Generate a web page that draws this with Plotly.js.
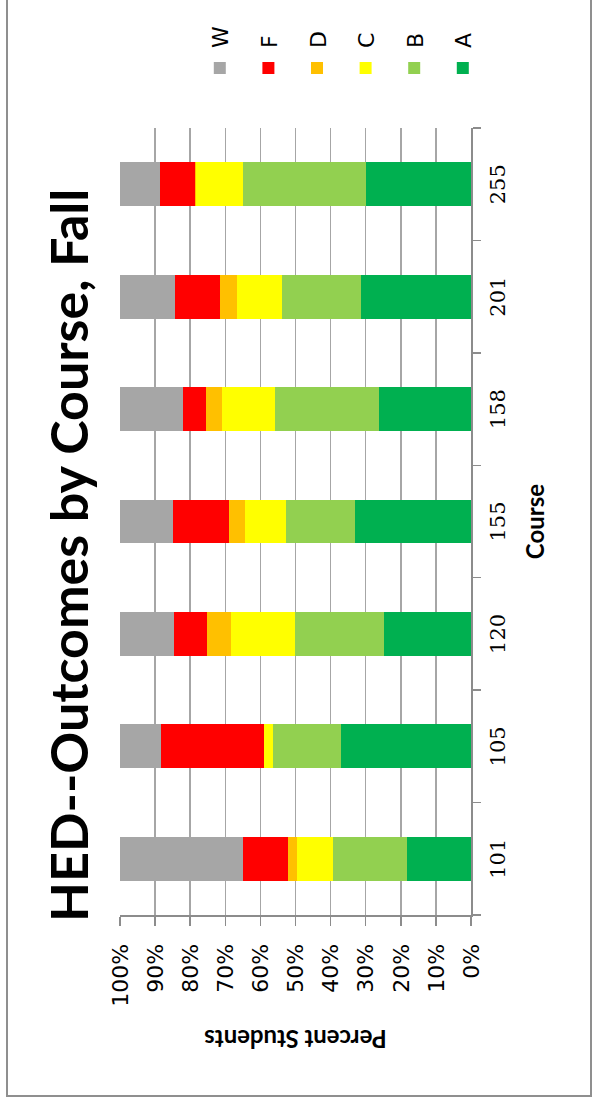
<!DOCTYPE html>
<html>
<head>
<meta charset="utf-8">
<script src="https://cdn.plot.ly/plotly-3.0.1.min.js"></script>
<style>
  html, body { margin: 0; padding: 0; background: #ffffff; }
  body { width: 594px; height: 1102px; overflow: hidden; position: relative; }
  /* the chart is laid out landscape and turned a quarter turn counter-clockwise */
  #stage {
    position: absolute; left: 0; top: 0;
    width: 1102px; height: 594px;
    transform-origin: 0 0;
    transform: translate(0, 1102px) rotate(-90deg);
  }
  #chart { position: absolute; left: 0; top: 0; width: 1102px; height: 594px; }
  #frame {
    position: absolute; left: 5px; top: 6px;
    width: 1120px; height: 582px;
    border: 2px solid #8f8f8f;
    pointer-events: none;
  }
</style>
</head>
<body>
<div id="stage">
  <div id="chart"></div>
  <div id="frame"></div>
</div>
<script>
// Courses on the category axis
const courses = ['101', '105', '120', '155', '158', '201', '255'];

// Share of students per grade outcome (percent), one value per course
const gradeA = [18.1, 37.1, 24.7, 33.0, 26.2, 31.2, 29.8];
const gradeB = [21.1, 19.4, 25.4, 19.8, 29.5, 22.7, 35.1];
const gradeC = [10.3, 2.5, 18.4, 11.7, 15.3, 12.8, 13.4];
const gradeD = [2.5, 0.0, 6.6, 4.4, 4.5, 4.8, 0.4];
const gradeF = [13.1, 29.2, 9.5, 16.1, 6.6, 12.7, 9.9];
const gradeW = [34.9, 11.8, 15.4, 15.0, 17.9, 15.8, 11.4];

const gradeNames = ['A', 'B', 'C', 'D', 'F', 'W'];
const gradeValues = [gradeA, gradeB, gradeC, gradeD, gradeF, gradeW];
const gradeColors = ['#00b050', '#92d050', '#ffff00', '#ffc000', '#ff0000', '#a6a6a6'];

// stacked bottom-up A..W; the legend lists the top of the stack first
const traces = gradeNames.map((name, i) => ({
  type: 'bar',
  name: name,
  x: courses,
  y: gradeValues[i],
  legendgroup: name,
  legendrank: gradeNames.length - i,
  marker: { color: gradeColors[i], line: { width: 0 } },
  hoverinfo: 'skip'
}));

const axisGray = '#8c8c8c';

const layout = {
  width: 1102,
  height: 594,
  margin: { l: 187, r: 128, t: 120, b: 123 },
  paper_bgcolor: 'rgba(0,0,0,0)',
  plot_bgcolor: '#ffffff',
  barmode: 'stack',
  bargap: 0.61,
  showlegend: true,
  title: {
    text: 'HED--Outcomes by Course, Fall',
    font: { family: 'Lato', size: 52, weight: 700, color: '#000000' },
    xref: 'container', x: 0.496, xanchor: 'center',
    yref: 'container', y: 1 - 70 / 594, yanchor: 'middle'
  },
  legend: {
    traceorder: 'grouped',
    tracegroupgap: 17,
    font: { family: 'DejaVu Sans', size: 22, color: '#000000' },
    xref: 'container', x: 1014 / 1102, xanchor: 'left',
    yref: 'container', y: 1 - 199 / 594, yanchor: 'top',
    bgcolor: 'rgba(0,0,0,0)'
  },
  xaxis: {
    type: 'category',
    categoryorder: 'array',
    categoryarray: courses,
    tickson: 'boundaries',
    ticks: 'outside',
    ticklen: 8,
    tickwidth: 1.5,
    tickcolor: axisGray,
    showline: true,
    linecolor: axisGray,
    linewidth: 1.5,
    showgrid: false,
    ticklabelstandoff: 7,
    tickfont: { family: 'DejaVu Serif', size: 21, color: '#000000' },
    title: {
      text: 'Course',
      font: { family: 'Lato', size: 24, weight: 700, color: '#000000' },
      standoff: 18
    }
  },
  yaxis: {
    range: [0, 100],
    dtick: 10,
    ticksuffix: '%',
    showgrid: true,
    gridcolor: '#a6a6a6',
    gridwidth: 1.5,
    zeroline: false,
    showline: true,
    linecolor: axisGray,
    linewidth: 1.5,
    ticks: 'outside',
    ticklen: 9,
    tickwidth: 1.5,
    tickcolor: axisGray,
    ticklabelstandoff: 14,
    tickfont: { family: 'DejaVu Sans', size: 22, color: '#000000' },
    title: {
      text: 'Percent Students',
      font: { family: 'Lato', size: 24, weight: 700, color: '#000000' },
      standoff: 16
    }
  }
};

Plotly.newPlot('chart', traces, layout, { staticPlot: true, displayModeBar: false });
</script>
</body>
</html>
